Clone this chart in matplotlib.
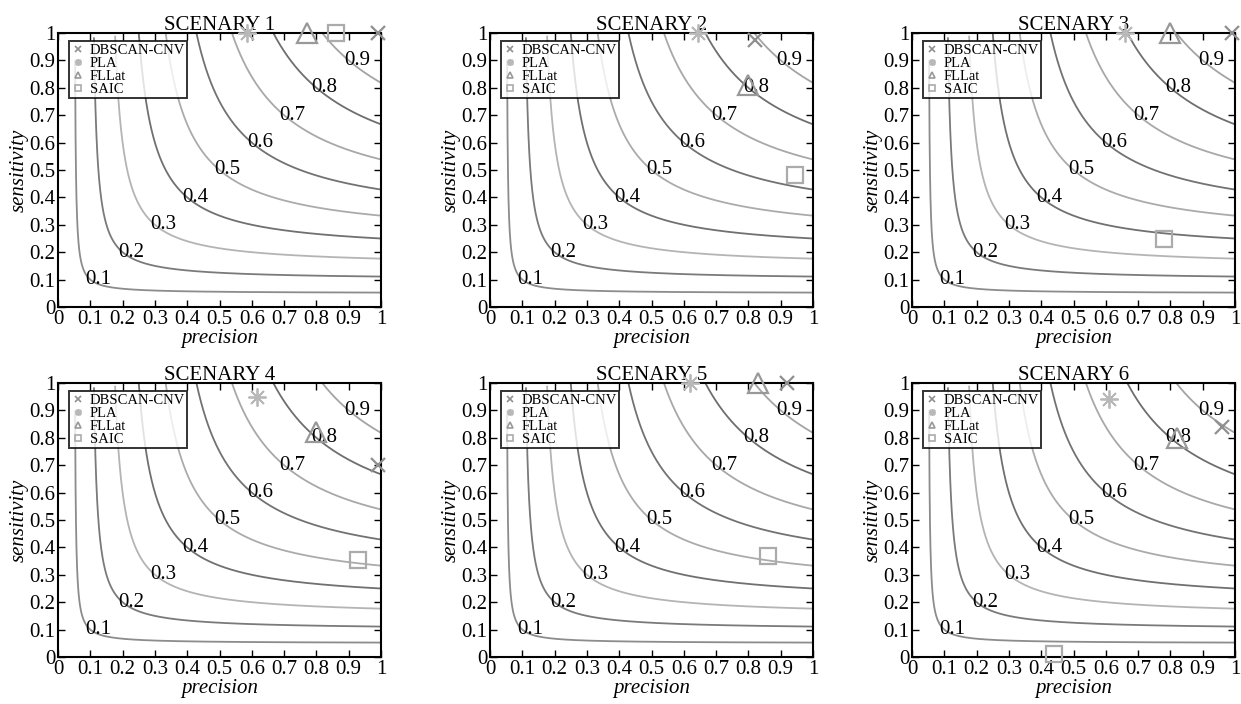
import numpy as np
import matplotlib
matplotlib.use("Agg")
import matplotlib.pyplot as plt

plt.rcParams['font.family'] = ['Liberation Serif', 'DejaVu Serif']

# F-measure levels of the iso-curves
f_levels = [0.1, 0.2, 0.3, 0.4, 0.5, 0.6, 0.7, 0.8, 0.9]
curve_colors = ['#8c8c8c', '#7a7a7a', '#b4b4b4', '#707070', '#ababab',
                '#727272', '#a8a8a8', '#6e6e6e', '#a4a4a4']

methods = ['DBSCAN-CNV', 'PLA', 'FLLat', 'SAIC']
titles = ['SCENARY 1', 'SCENARY 2', 'SCENARY 3', 'SCENARY 4', 'SCENARY 5', 'SCENARY 6']

# (precision, sensitivity) per scenary, in method order
precision = [
    [0.99, 0.585, 0.77, 0.86],
    [0.82, 0.645, 0.80, 0.945],
    [0.99, 0.66, 0.80, 0.78],
    [0.99, 0.615, 0.80, 0.93],
    [0.92, 0.62, 0.83, 0.86],
    [0.96, 0.61, 0.82, 0.44],
]
sensitivity = [
    [1.0, 1.0, 1.0, 1.0],
    [0.975, 1.0, 0.81, 0.48],
    [1.0, 1.0, 1.0, 0.25],
    [0.70, 0.95, 0.82, 0.355],
    [1.0, 1.0, 1.0, 0.37],
    [0.84, 0.94, 0.80, 0.01],
]

ticks = [0, 0.1, 0.2, 0.3, 0.4, 0.5, 0.6, 0.7, 0.8, 0.9, 1]
tick_labels = ['0', '0.1', '0.2', '0.3', '0.4', '0.5', '0.6', '0.7', '0.8', '0.9', '1']

styles = {
    'DBSCAN-CNV': dict(marker='x', ms=10, mew=1.6, color='#8f8f8f'),
    'PLA': dict(marker=(8, 2, 0), ms=13, mew=1.3, color='#b8b8b8'),
    'FLLat': dict(marker='^', ms=14, mew=1.6, color='#999999'),
    'SAIC': dict(marker='s', ms=11, mew=1.6, color='#ababab'),
}

fig = plt.figure(figsize=(12.41, 7.04), dpi=100)
W, H = 1241, 704
lefts = [58, 490, 912]
tops = [33, 383]
aw, ah = 323, 274

for i in range(6):
    r, c = divmod(i, 3)
    ax = fig.add_axes([lefts[c] / W, 1 - (tops[r] + ah) / H, aw / W, ah / H])

    # iso F-measure curves: 2PR/(P+R) = f
    for f, col in zip(f_levels, curve_colors):
        p = np.linspace(f / 2 + 1e-4, 1, 2000)
        rr = f * p / (2 * p - f)
        m = rr <= 1.0
        ax.plot(p[m], rr[m], color=col, lw=1.3, zorder=1)
        ax.text(f - 0.015, f, '%.1f' % f, ha='left', va='center', fontsize=15, zorder=2)

    for k, name in enumerate(methods):
        st = styles[name]
        ax.plot([precision[i][k]], [sensitivity[i][k]], ls='none', clip_on=False,
                zorder=5, marker=st['marker'], ms=st['ms'], mew=st['mew'],
                color=st['color'], mfc='none')
    handles = []
    for name in methods:
        st = styles[name]
        h, = ax.plot([], [], ls='none', marker=st['marker'], ms=5, mew=1.2,
                     color=st['color'], mfc='none', label=name)
        handles.append(h)
    leg = ax.legend(handles=handles, loc='upper left', bbox_to_anchor=(0.033, 0.97),
                    fontsize=10.5, frameon=True, fancybox=False, borderpad=0.15,
                    labelspacing=0.0, handlelength=1.0, handletextpad=0.3,
                    borderaxespad=0.0, edgecolor='black')
    leg.get_frame().set_linewidth(1.4)

    ax.set_xlim(0, 1)
    ax.set_ylim(0, 1)
    ax.set_xticks(ticks)
    ax.set_yticks(ticks)
    ax.set_xticklabels(tick_labels, fontsize=15)
    ax.set_yticklabels(tick_labels, fontsize=15)
    ax.tick_params(direction='in', top=True, right=True, length=5, width=1, pad=2)
    for s in ax.spines.values():
        s.set_linewidth(1.5)
    ax.set_title(titles[i], fontsize=15, pad=2)
    ax.set_xlabel('precision', fontsize=15, style='italic', labelpad=0)
    ax.set_ylabel('sensitivity', fontsize=15, style='italic', labelpad=0)

fig.savefig('out.png', dpi=100)
